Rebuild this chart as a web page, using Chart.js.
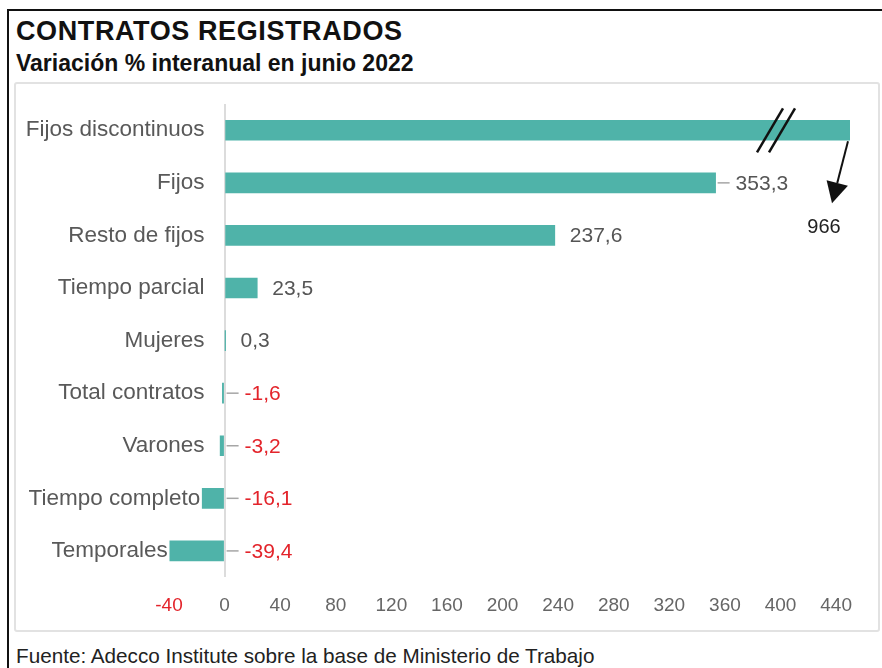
<!DOCTYPE html>
<html>
<head>
<meta charset="utf-8">
<script src="https://cdn.jsdelivr.net/npm/chart.js@4.4.1/dist/chart.umd.min.js"></script>
<style>
  body { margin: 0; background: #fff; font-family: "Liberation Sans", Arial, sans-serif; }
  #wrap { position: relative; width: 882px; height: 668px; overflow: hidden; }
  #frame { position: absolute; left: 7px; top: 9px; width: 880px; height: 670px;
           border-left: 2.5px solid #111; border-top: 2.5px solid #111; }
  #title { position: absolute; left: 16px; top: 18px; font-size: 27px; line-height: 1;
           font-weight: bold; color: #111; letter-spacing: 0.6px; white-space: nowrap; }
  #subtitle { position: absolute; left: 16px; top: 52px; font-size: 23px; line-height: 1;
              font-weight: bold; color: #111; white-space: nowrap; }
  #box { position: absolute; left: 14px; top: 82px; width: 866px; height: 550px;
         box-sizing: border-box; border: 2px solid #e2e2e2; border-radius: 3px; }
  #source { position: absolute; left: 16px; top: 646px; font-size: 20.7px; line-height: 1;
            color: #222; white-space: nowrap; }
  canvas { position: absolute; left: 0; top: 0; }
</style>
</head>
<body>
<div id="wrap">
  <div id="frame"></div>
  <div id="title">CONTRATOS REGISTRADOS</div>
  <div id="subtitle">Variación % interanual en junio 2022</div>
  <div id="box"></div>
  <div id="source">Fuente: Adecco Institute sobre la base de Ministerio de Trabajo</div>
  <canvas id="contratosChart" width="882" height="668"></canvas>
</div>
<script>
// datos
const categorias = ['Fijos discontinuos', 'Fijos', 'Resto de fijos', 'Tiempo parcial', 'Mujeres',
                    'Total contratos', 'Varones', 'Tiempo completo', 'Temporales'];
const variacion = [966, 353.3, 237.6, 23.5, 0.3, -1.6, -3.2, -16.1, -39.4];
const ticksEje = [-40, 0, 40, 80, 120, 160, 200, 240, 280, 320, 360, 400, 440];
const conGuia = ['Fijos', 'Total contratos', 'Varones', 'Tiempo completo', 'Temporales'];

const TEAL = '#4fb3a9';
const RED = '#e3242b';
const FONT = '"Liberation Sans", Arial, sans-serif';

function fmt(v) {
    return Number.isInteger(v) ? String(v) : v.toFixed(1).replace('.', ',');
}

// etiquetas, líneas guía y la marca de corte
const etiquetasPlugin = {
    id: 'etiquetas',
    afterDraw(chart) {
        const ctx = chart.ctx;
        const meta = chart.getDatasetMeta(0);
        const zero = chart.scales.x.getPixelForValue(0);
        const area = chart.chartArea;
        ctx.save();
        meta.data.forEach((bar, i) => {
            const v = variacion[i];
            const left = Math.min(bar.x, bar.base);
            const right = Math.min(Math.max(bar.x, bar.base), area.right);
            const y = bar.y;

            // categoría
            ctx.font = '22.5px ' + FONT;
            ctx.fillStyle = '#595959';
            ctx.textAlign = 'right';
            ctx.textBaseline = 'middle';
            ctx.fillText(categorias[i], Math.min(zero - 20, left - 2), y);

            if (v > ticksEje[ticksEje.length - 1]) {
                // barra cortada: //  y flecha hacia el valor
                ctx.strokeStyle = '#111';
                ctx.lineWidth = 2.5;
                [0, 12].forEach(d => {
                    ctx.beginPath();
                    ctx.moveTo(right - 93 + d, y + 22);
                    ctx.lineTo(right - 67 + d, y - 22);
                    ctx.stroke();
                });
                const x0 = right - 2, y0 = y + 11;
                const x1 = right - 18, y1 = y + 73;
                const dx = x1 - x0, dy = y1 - y0, len = Math.hypot(dx, dy);
                const ux = dx / len, uy = dy / len;
                const hx = x1 - ux * 21, hy = y1 - uy * 21;
                ctx.lineWidth = 2;
                ctx.beginPath();
                ctx.moveTo(x0, y0);
                ctx.lineTo(hx, hy);
                ctx.stroke();
                ctx.fillStyle = '#111';
                ctx.beginPath();
                ctx.moveTo(x1, y1);
                ctx.lineTo(hx - uy * 11, hy + ux * 11);
                ctx.lineTo(hx + uy * 11, hy - ux * 11);
                ctx.closePath();
                ctx.fill();
                ctx.font = '20px ' + FONT;
                ctx.fillStyle = '#222';
                ctx.textAlign = 'center';
                ctx.fillText(fmt(v), right - 26, y + 97);
                return;
            }

            const start = v < 0 ? zero : right;
            let tx = start + 15;
            if (conGuia.includes(categorias[i])) {
                ctx.strokeStyle = '#a6a6a6';
                ctx.lineWidth = 1.5;
                ctx.beginPath();
                ctx.moveTo(start + 2, y);
                ctx.lineTo(start + 14, y);
                ctx.stroke();
                tx = start + 20;
            }
            ctx.font = '21px ' + FONT;
            ctx.fillStyle = v < 0 ? RED : '#555';
            ctx.textAlign = 'left';
            ctx.fillText(fmt(v), tx, y + 1);
        });
        ctx.restore();
    }
};

const ctx = document.getElementById('contratosChart').getContext('2d');
const contratosChart = new Chart(ctx, {
    type: 'bar',
    data: {
        labels: categorias,
        datasets: [{
            data: variacion,
            backgroundColor: TEAL,
            borderWidth: 0,
            barThickness: 20
        }]
    },
    options: {
        indexAxis: 'y',
        responsive: false,
        animation: false,
        devicePixelRatio: 1,
        layout: { padding: { left: 169, right: 32, top: 104, bottom: 34 } },
        plugins: {
            legend: { display: false },
            tooltip: { enabled: false }
        },
        scales: {
            x: {
                min: -40,
                max: 450,
                afterBuildTicks: scale => {
                    scale.ticks = ticksEje.map(v => ({ value: v }));
                },
                grid: {
                    drawTicks: false,
                    lineWidth: 2,
                    color: c => (c.tick && c.tick.value === 0) ? '#dcdcdc' : 'rgba(0,0,0,0)'
                },
                border: { display: false },
                ticks: {
                    padding: 17,
                    maxRotation: 0,
                    autoSkip: false,
                    font: { family: FONT, size: 19 },
                    color: c => c.tick.value < 0 ? RED : '#666',
                    callback: v => fmt(v)
                }
            },
            y: {
                display: false
            }
        }
    },
    plugins: [etiquetasPlugin]
});
</script>
</body>
</html>
